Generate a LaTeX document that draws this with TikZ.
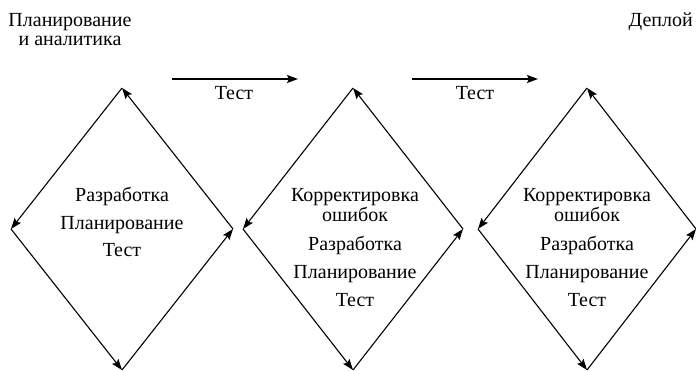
\documentclass[tikz,border=0pt]{standalone}
\usepackage{fontspec}
\setmainfont{Liberation Serif}
\usetikzlibrary{arrows.meta}
\begin{document}
\begin{tikzpicture}[x=1pt,y=1pt,
  edge/.style={line width=1.1pt,-{Stealth[length=11pt,width=8pt,inset=2pt]}},
  lbl/.style={font=\fontsize{20}{24}\selectfont,inner sep=0pt,anchor=base,align=center},
  twoline/.style={font=\fontsize{20}{19}\selectfont},
  twolineb/.style={font=\fontsize{20}{20}\selectfont}]
\useasboundingbox (0,0) rectangle (696,371);
% diamond vertices
\foreach \n/\cx/\hw in {1/122/111,2/353/110,3/587/109}{
  \coordinate (T\n) at (\cx,283);
  \coordinate (L\n) at (\cx-\hw,142);
  \coordinate (B\n) at (\cx,1);
  \coordinate (R\n) at (\cx+\hw,142);
}
\foreach \n in {1,2,3}{
  \draw[edge] (R\n) -- (T\n);
  \draw[edge] (T\n) -- (L\n);
  \draw[edge] (L\n) -- (B\n);
  \draw[edge] (B\n) -- (R\n);
}
% horizontal arrows
\coordinate (h1s) at (172,292); \coordinate (h1e) at (298,292);
\coordinate (h2s) at (412,292); \coordinate (h2e) at (538,292);
\draw[edge] (h1s) -- (h1e);
\draw[edge] (h2s) -- (h2e);
\node[lbl] (t1) at (234,271) {Тест};
\node[lbl] (t2) at (475,271) {Тест};
% top labels (base anchor = baseline of last line)
\node[lbl,twoline] (plan) at (70,325.5) {Планирование\\и аналитика};
\node[lbl,anchor=base east] (depl) at (693,344) {Деплой};
% diamond 1
\node[lbl] (a1) at (122,169) {Разработка};
\node[lbl] (a2) at (122,141.5) {Планирование};
\node[lbl] (a3) at (122,114) {Тест};
% diamond 2
\node[lbl,twolineb] (b1) at (355,149) {Корректировка\\ошибок};
\node[lbl] (b3) at (355,120) {Разработка};
\node[lbl] (b4) at (355,92) {Планирование};
\node[lbl] (b5) at (355,64) {Тест};
% diamond 3
\node[lbl,twolineb] (c1) at (587,149) {Корректировка\\ошибок};
\node[lbl] (c3) at (587,120) {Разработка};
\node[lbl] (c4) at (587,92) {Планирование};
\node[lbl] (c5) at (587,64) {Тест};
\end{tikzpicture}
\end{document}
